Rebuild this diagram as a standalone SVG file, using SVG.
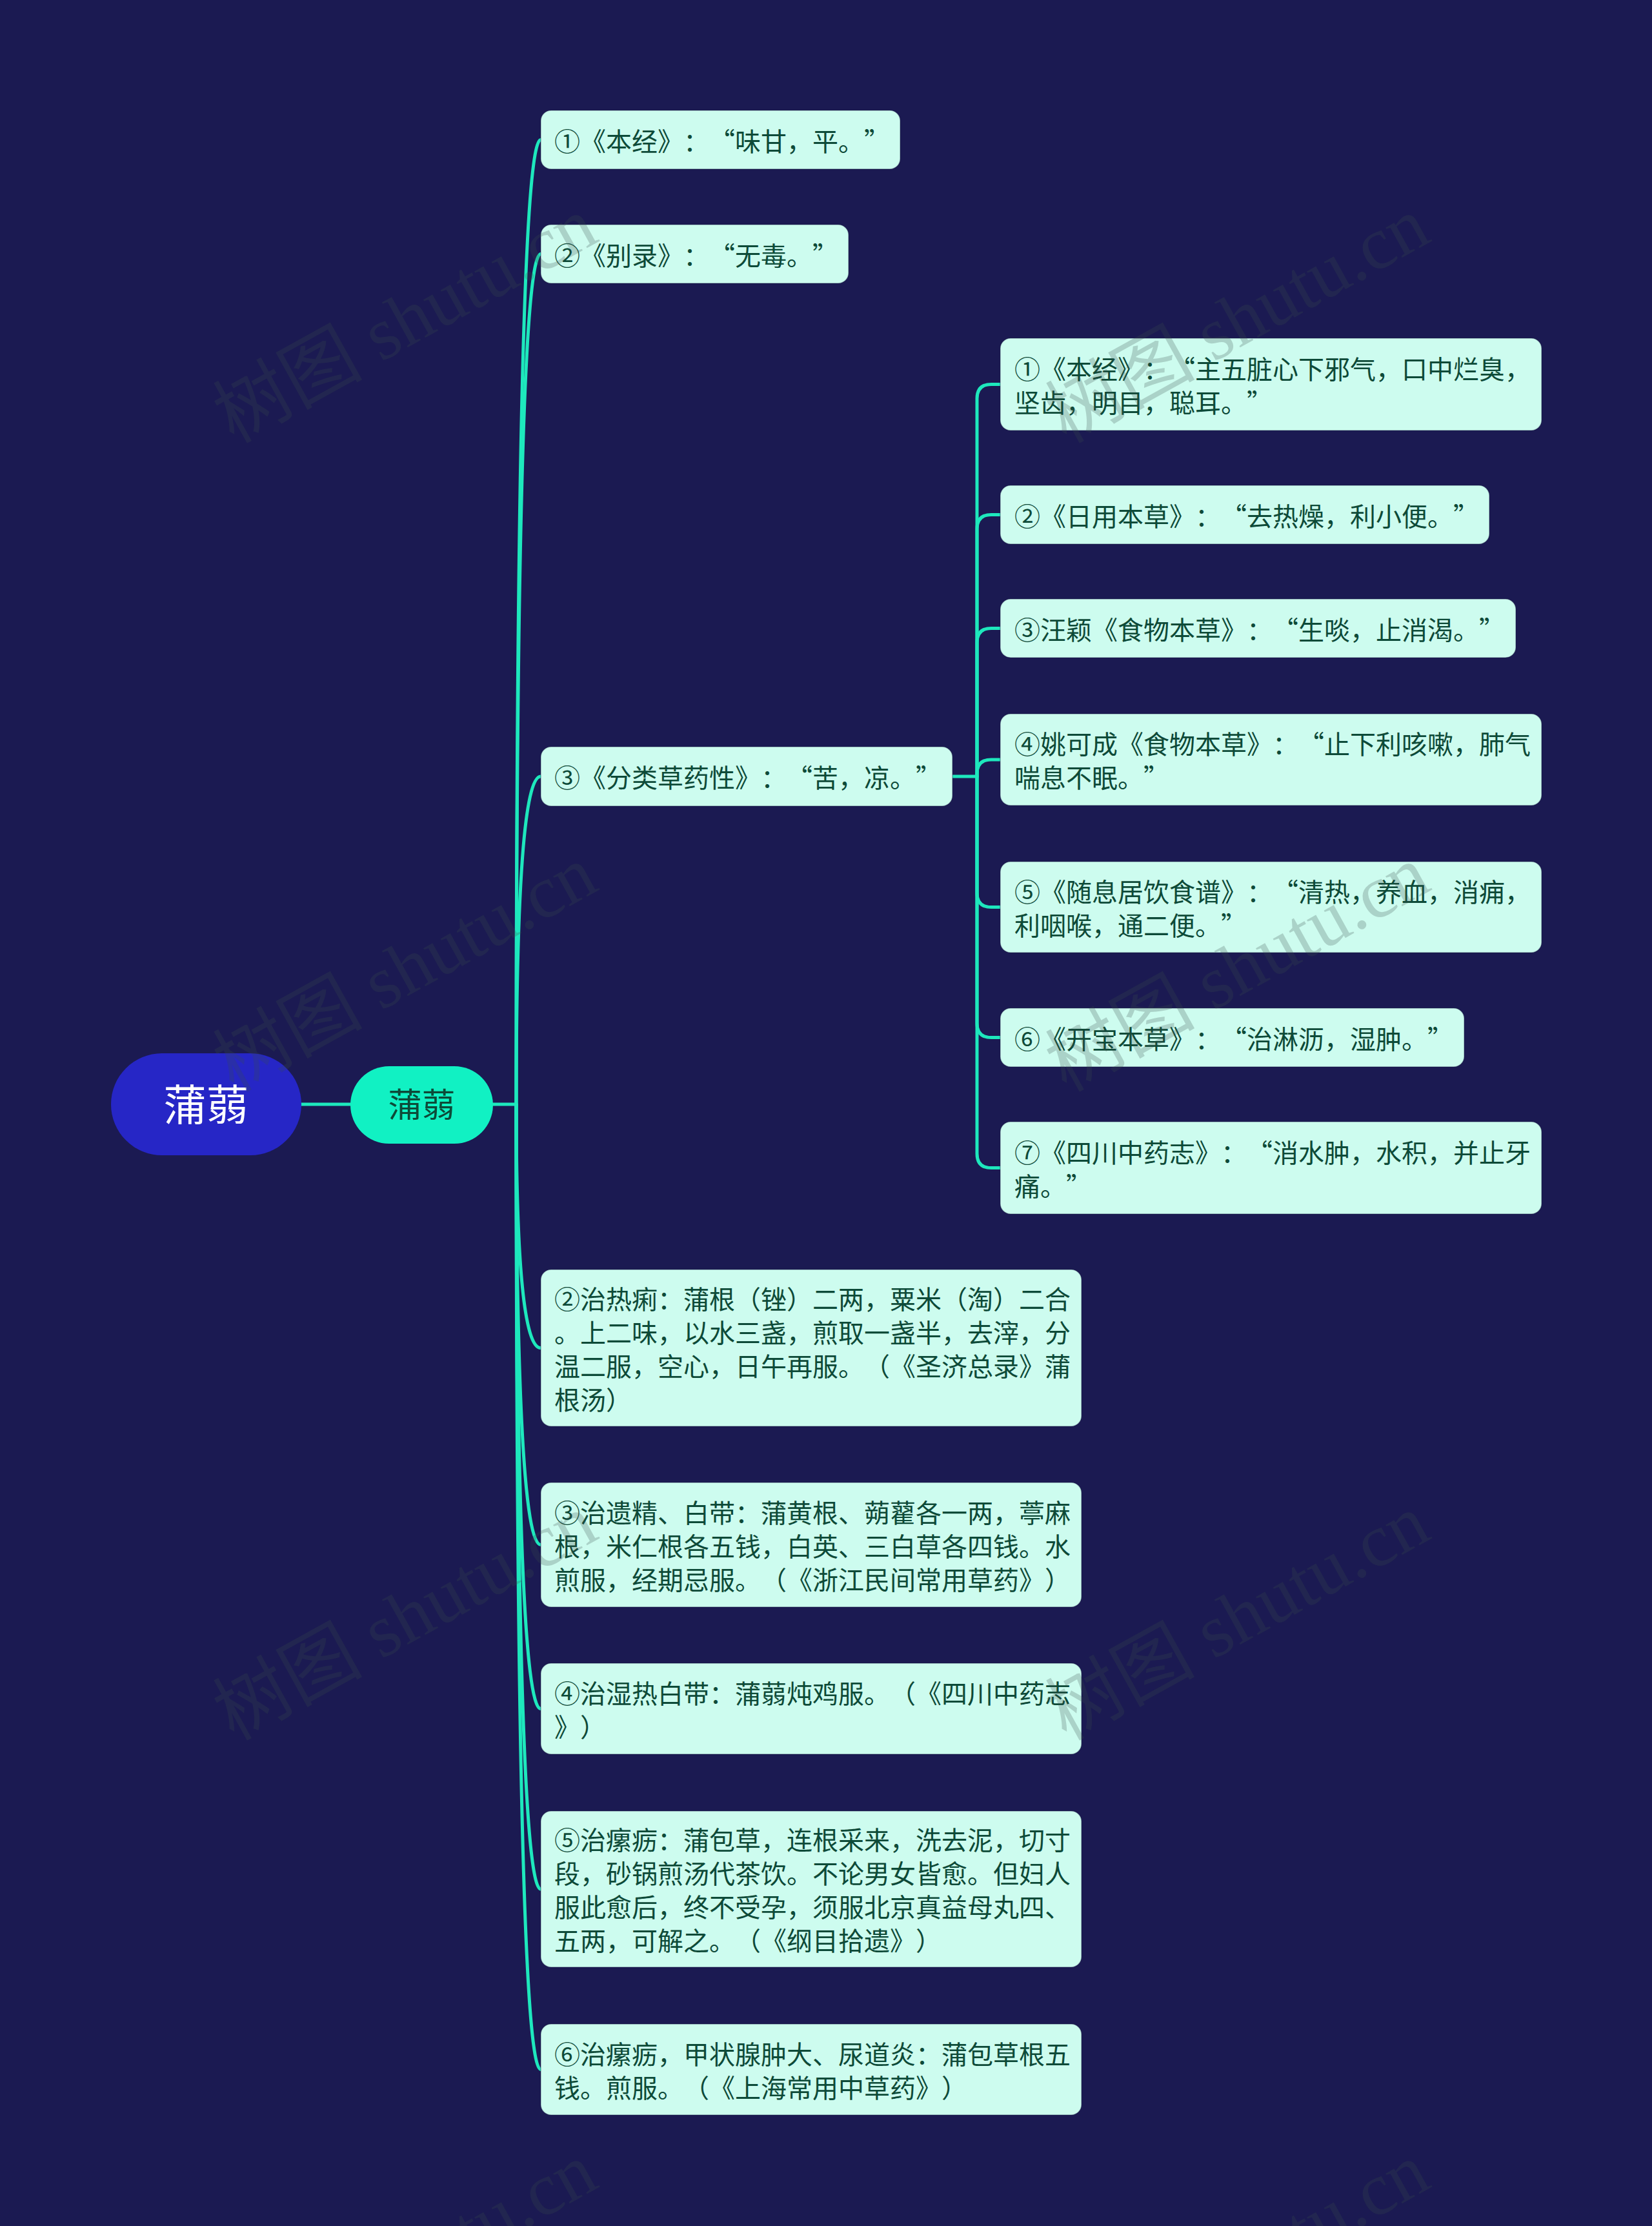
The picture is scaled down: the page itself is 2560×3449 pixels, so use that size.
<svg xmlns="http://www.w3.org/2000/svg" width="2560" height="3449" viewBox="0 0 2560 3449">
<style>
.bg{fill:#1b1a52}
.ln{fill:none;stroke:#1ee8bd;stroke-width:5;stroke-linecap:round}
.box{fill:#cdfcef;stroke:#10123a;stroke-opacity:0.35;stroke-width:1.5}
.t{font-family:"Noto Sans CJK SC","Noto Sans",sans-serif;font-size:40px;fill:#0d4a38;text-spacing-trim:space-all}
.root{fill:#2626c6}
.rt{font-family:"Noto Sans CJK SC","Noto Sans",sans-serif;font-size:66px;fill:#ffffff;text-anchor:middle}
.sub{fill:#11f1c3}
.st{font-family:"Noto Sans CJK SC","Noto Sans",sans-serif;font-size:52px;fill:#0d4a38;text-anchor:middle}
.wm{font-family:"Liberation Serif","Noto Sans CJK SC",serif;font-size:116px;fill:#3a504a;fill-opacity:0.24}
</style>
<rect class="bg" x="0" y="0" width="2560" height="3449"/>
<g id="connectors">
<path class="ln" d="M467 1711 L543 1711"/>
<path class="ln" d="M764 1711 L800 1711"/>
<path class="ln" d="M800 1711 Q800 216.5 838 216.5"/>
<path class="ln" d="M800 1711 Q800 393.5 838 393.5"/>
<path class="ln" d="M800 1711 Q800 1203 838 1203"/>
<path class="ln" d="M800 1711 Q800 2088.5 838 2088.5"/>
<path class="ln" d="M800 1711 Q800 2393.5 838 2393.5"/>
<path class="ln" d="M800 1711 Q800 2647.5 838 2647.5"/>
<path class="ln" d="M800 1711 Q800 2927 838 2927"/>
<path class="ln" d="M800 1711 Q800 3206.5 838 3206.5"/>
<path class="ln" d="M1476 1203 L1514 1203"/>
<path class="ln" d="M1514 1203 L1514 617.5 Q1514 595.5 1536 595.5 L1550 595.5"/>
<path class="ln" d="M1514 1203 L1514 819.5 Q1514 797.5 1536 797.5 L1550 797.5"/>
<path class="ln" d="M1514 1203 L1514 995.5 Q1514 973.5 1536 973.5 L1550 973.5"/>
<path class="ln" d="M1514 1203 L1514 1199 Q1514 1177 1536 1177 L1550 1177"/>
<path class="ln" d="M1514 1203 L1514 1383.5 Q1514 1405.5 1536 1405.5 L1550 1405.5"/>
<path class="ln" d="M1514 1203 L1514 1585.5 Q1514 1607.5 1536 1607.5 L1550 1607.5"/>
<path class="ln" d="M1514 1203 L1514 1787.5 Q1514 1809.5 1536 1809.5 L1550 1809.5"/>
</g>
<g id="root">
<rect class="root" x="172" y="1632" width="295" height="158" rx="79"/>
<text class="rt" x="319.5" y="1736">蒲蒻</text>
</g>
<g id="sub">
<rect class="sub" x="543" y="1652" width="221" height="120" rx="60"/>
<text class="st" x="653.5" y="1731">蒲蒻</text>
</g>
<g id="n1">
<rect class="box" x="838" y="171" width="557" height="91" rx="16"/>
<text class="t" x="859" y="233.5">①《本经》：“味甘，平。”</text>
</g>
<g id="n2">
<rect class="box" x="838" y="348" width="477" height="91" rx="16"/>
<text class="t" x="859" y="410.5">②《别录》：“无毒。”</text>
</g>
<g id="n3">
<rect class="box" x="838" y="1157" width="638" height="92" rx="16"/>
<text class="t" x="859" y="1220">③《分类草药性》：“苦，凉。”</text>
</g>
<g id="n3-1">
<rect class="box" x="1550" y="524" width="839" height="143" rx="16"/>
<text class="t" x="1572" y="586.5">①《本经》：“主五脏心下邪气，口中烂臭，</text>
<text class="t" x="1572" y="638.5">坚齿，明目，聪耳。”</text>
</g>
<g id="n3-2">
<rect class="box" x="1550" y="752" width="758" height="91" rx="16"/>
<text class="t" x="1572" y="814.5">②《日用本草》：“去热燥，利小便。”</text>
</g>
<g id="n3-3">
<rect class="box" x="1550" y="928" width="799" height="91" rx="16"/>
<text class="t" x="1572" y="990.5">③汪颖《食物本草》：“生啖，止消渴。”</text>
</g>
<g id="n3-4">
<rect class="box" x="1550" y="1106" width="839" height="142" rx="16"/>
<text class="t" x="1572" y="1168">④姚可成《食物本草》：“止下利咳嗽，肺气</text>
<text class="t" x="1572" y="1220">喘息不眠。”</text>
</g>
<g id="n3-5">
<rect class="box" x="1550" y="1335" width="839" height="141" rx="16"/>
<text class="t" x="1572" y="1396.5">⑤《随息居饮食谱》：“清热，养血，消痈，</text>
<text class="t" x="1572" y="1448.5">利咽喉，通二便。”</text>
</g>
<g id="n3-6">
<rect class="box" x="1550" y="1562" width="719" height="91" rx="16"/>
<text class="t" x="1572" y="1624.5">⑥《开宝本草》：“治淋沥，湿肿。”</text>
</g>
<g id="n3-7">
<rect class="box" x="1550" y="1738" width="839" height="143" rx="16"/>
<text class="t" x="1572" y="1800.5">⑦《四川中药志》：“消水肿，水积，并止牙</text>
<text class="t" x="1572" y="1852.5">痛。”</text>
</g>
<g id="n4">
<rect class="box" x="838" y="1967" width="838" height="243" rx="16"/>
<text class="t" x="859" y="2027.5">②治热痢：蒲根（锉）二两，粟米（淘）二合</text>
<text class="t" x="859" y="2079.5">。上二味，以水三盏，煎取一盏半，去滓，分</text>
<text class="t" x="859" y="2131.5">温二服，空心，日午再服。（《圣济总录》蒲</text>
<text class="t" x="859" y="2183.5">根汤）</text>
</g>
<g id="n5">
<rect class="box" x="838" y="2297" width="838" height="193" rx="16"/>
<text class="t" x="859" y="2358.5">③治遗精、白带：蒲黄根、蒴藋各一两，葶麻</text>
<text class="t" x="859" y="2410.5">根，米仁根各五钱，白英、三白草各四钱。水</text>
<text class="t" x="859" y="2462.5">煎服，经期忌服。（《浙江民间常用草药》）</text>
</g>
<g id="n6">
<rect class="box" x="838" y="2577" width="838" height="141" rx="16"/>
<text class="t" x="859" y="2638.5">④治湿热白带：蒲蒻炖鸡服。（《四川中药志</text>
<text class="t" x="859" y="2690.5">》）</text>
</g>
<g id="n7">
<rect class="box" x="838" y="2806" width="838" height="242" rx="16"/>
<text class="t" x="859" y="2866">⑤治瘰疬：蒲包草，连根采来，洗去泥，切寸</text>
<text class="t" x="859" y="2918">段，砂锅煎汤代茶饮。不论男女皆愈。但妇人</text>
<text class="t" x="859" y="2970">服此愈后，终不受孕，须服北京真益母丸四、</text>
<text class="t" x="859" y="3022">五两，可解之。（《纲目拾遗》）</text>
</g>
<g id="n8">
<rect class="box" x="838" y="3136" width="838" height="141" rx="16"/>
<text class="t" x="859" y="3197.5">⑥治瘰疬，甲状腺肿大、尿道炎：蒲包草根五</text>
<text class="t" x="859" y="3249.5">钱。煎服。（《上海常用中草药》）</text>
</g>
<g id="watermarks">
<text class="wm" transform="translate(362 688) rotate(-29)">树图 shutu.cn</text>
<text class="wm" transform="translate(1652 688) rotate(-29)">树图 shutu.cn</text>
<text class="wm" transform="translate(362 1693) rotate(-29)">树图 shutu.cn</text>
<text class="wm" transform="translate(1652 1693) rotate(-29)">树图 shutu.cn</text>
<text class="wm" transform="translate(362 2698) rotate(-29)">树图 shutu.cn</text>
<text class="wm" transform="translate(1652 2698) rotate(-29)">树图 shutu.cn</text>
<text class="wm" transform="translate(362 3703) rotate(-29)">树图 shutu.cn</text>
<text class="wm" transform="translate(1652 3703) rotate(-29)">树图 shutu.cn</text>
</g>
</svg>
